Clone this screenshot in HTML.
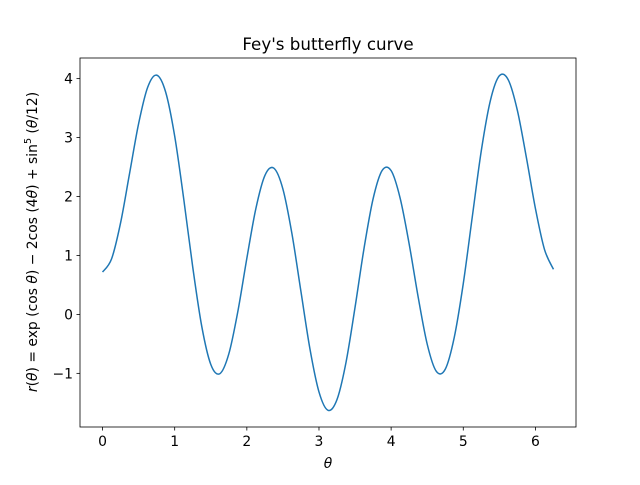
<!DOCTYPE html>
<html><head><meta charset="utf-8"><style>
body{margin:0;background:#fff}
svg text{font-family:"DejaVu Sans","Liberation Sans",sans-serif;fill:#000}
</style></head><body>
<svg id="chart" width="640" height="480" xmlns="http://www.w3.org/2000/svg">
<rect width="640" height="480" fill="#fff"/>
<text x="328" y="50" font-size="16.7" text-anchor="middle">Fey's butterfly curve</text>
<g id="xt"></g>
<g id="yt"></g>
<path id="line" fill="none" stroke="#1f77b4" stroke-width="1.5"/>
<rect x="80" y="58" width="496" height="369" fill="none" stroke="#000" stroke-width="0.8"/>
<text x="328" y="468" font-size="13.9" text-anchor="middle" font-style="italic">θ</text>
<text transform="translate(37,242) rotate(-90)" font-size="13.9" text-anchor="middle"><tspan font-style="italic">r</tspan>(<tspan font-style="italic">θ</tspan>) = exp (cos <tspan font-style="italic">θ</tspan>) − 2cos (4<tspan font-style="italic">θ</tspan>) + sin<tspan font-size="9.5" dy="-6">5</tspan><tspan dy="6"> (</tspan><tspan font-style="italic">θ</tspan>/12)</text>
</svg>
<script>
const thetaStep = 0.125;
const rValues = [0.718,0.942,1.554,2.395,3.237,3.852,4.059,3.771,3.024,1.961,0.804,-0.202,-0.847,-1.006,-0.671,0.048,0.951,1.795,2.356,2.481,2.127,1.370,0.388,-0.586,-1.315,-1.626,-1.444,-0.811,0.121,1.125,1.961,2.441,2.439,1.972,1.195,0.293,-0.504,-0.963,-0.930,-0.389,0.523,1.656,2.778,3.624,4.048,3.976,3.460,2.660,1.797,1.105,0.766];
const xTicks = [0,1,2,3,4,5,6];
const yTicks = [-1,0,1,2,3,4];
const X0=80,X1=576,Y0=58,Y1=427;
const xMin=-0.3125,xMax=6.5625,yMin=-1.91,yMax=4.35;
const sx=v=>X0+(v-xMin)/(xMax-xMin)*(X1-X0);
const sy=v=>Y1-(v-yMin)/(yMax-yMin)*(Y1-Y0);
const NS="http://www.w3.org/2000/svg";
const pts=rValues.map((r,i)=>[sx(i*thetaStep),sy(r)]);
let d=`M${pts[0][0]},${pts[0][1]}`;
for(let i=0;i<pts.length-1;i++){
  const p0=pts[Math.max(i-1,0)],p1=pts[i],p2=pts[i+1],p3=pts[Math.min(i+2,pts.length-1)];
  const c1=[p1[0]+(p2[0]-p0[0])/6,p1[1]+(p2[1]-p0[1])/6];
  const c2=[p2[0]-(p3[0]-p1[0])/6,p2[1]-(p3[1]-p1[1])/6];
  d+=`C${c1[0]},${c1[1]} ${c2[0]},${c2[1]} ${p2[0]},${p2[1]}`;
}
document.getElementById('line').setAttribute('d',d);
const xt=document.getElementById('xt');
xTicks.forEach(t=>{
  const x=sx(t);
  const l=document.createElementNS(NS,'line');
  
  
  l.setAttribute('x1',x);l.setAttribute('x2',x);l.setAttribute('y1',Y1);l.setAttribute('y2',Y1+3.5);l.setAttribute('stroke','#000');l.setAttribute('stroke-width','0.8');
  xt.appendChild(l);
  const tx=document.createElementNS(NS,'text');
  
  
  tx.setAttribute('x',x);tx.setAttribute('y',Y1+19);tx.setAttribute('font-size','13.9');tx.setAttribute('text-anchor','middle');
  tx.textContent=t;xt.appendChild(tx);
});
const yt=document.getElementById('yt');
yTicks.forEach(t=>{
  const y=sy(t);
  const l=document.createElementNS(NS,'line');
  
  
  l.setAttribute('x1',X0-3.5);l.setAttribute('x2',X0);l.setAttribute('y1',y);l.setAttribute('y2',y);l.setAttribute('stroke','#000');l.setAttribute('stroke-width','0.8');
  yt.appendChild(l);
  const tx=document.createElementNS(NS,'text');
  
  
  tx.setAttribute('x',X0-7);tx.setAttribute('y',y+5);tx.setAttribute('font-size','13.9');tx.setAttribute('text-anchor','end');
  tx.textContent=t<0?'−'+Math.abs(t):t;yt.appendChild(tx);
});
</script>
</body></html>
